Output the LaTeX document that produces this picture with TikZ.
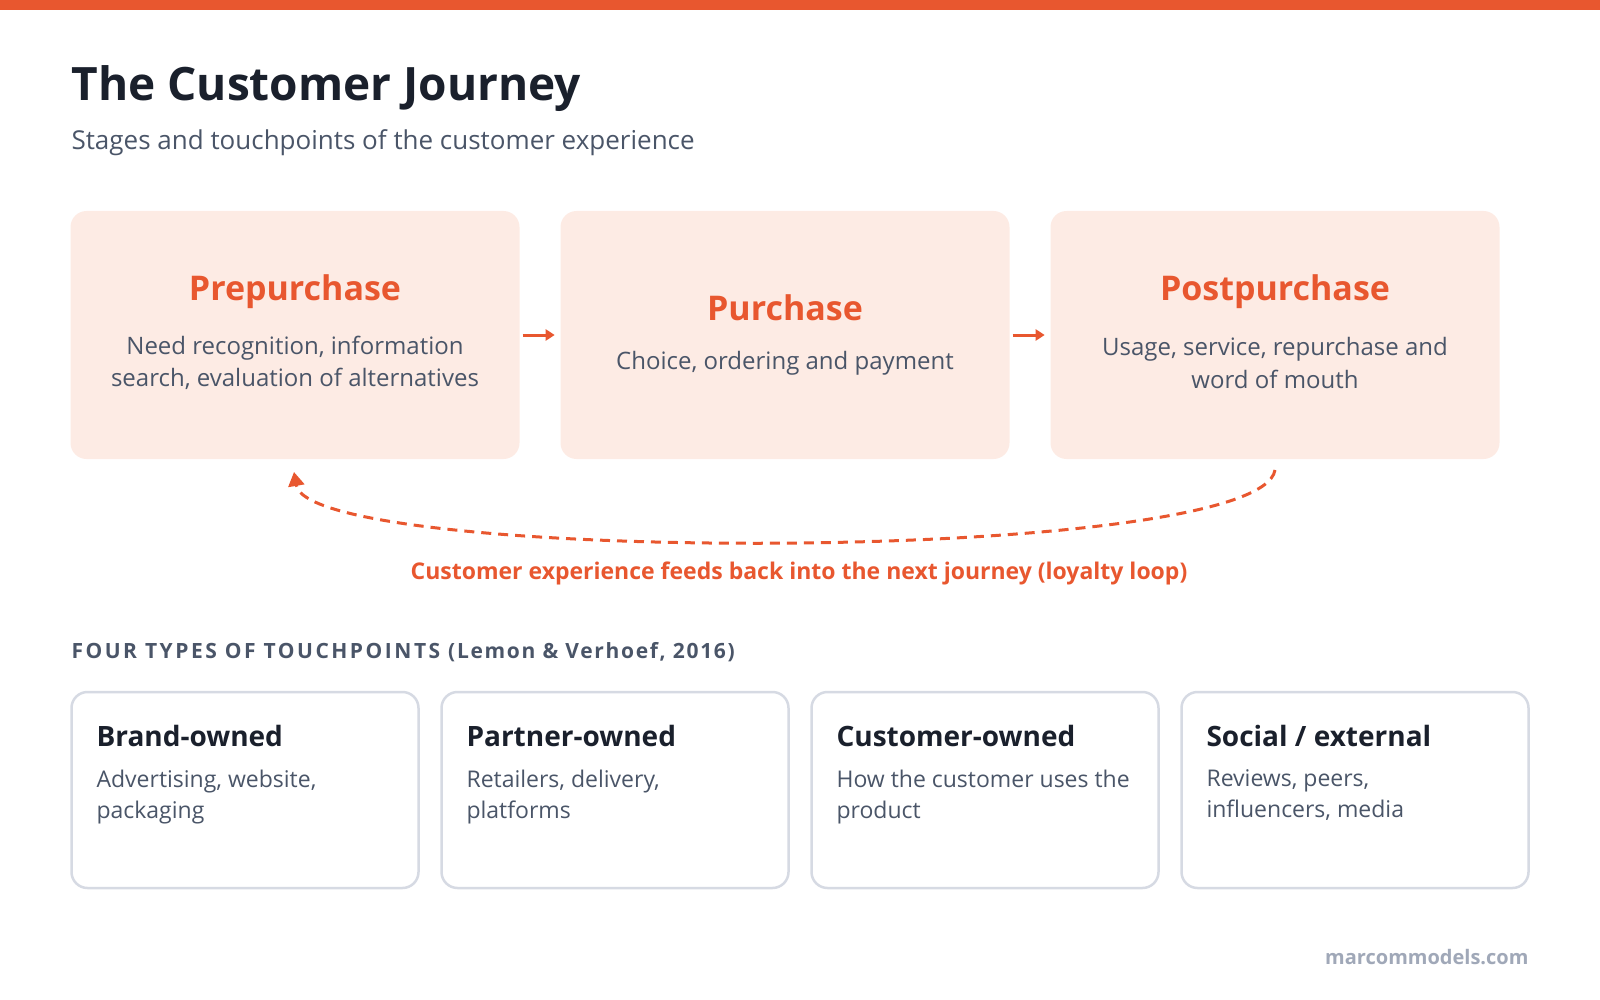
\documentclass[tikz,border=0pt]{standalone}
\usepackage{fontspec}
\setmainfont{Open Sans}
\usetikzlibrary{arrows.meta}
\definecolor{accent}{HTML}{E8572F}
\definecolor{stagefill}{HTML}{FDEBE4}
\definecolor{ink}{HTML}{1A202C}
\definecolor{muted}{HTML}{4A5568}
\definecolor{cardline}{HTML}{D6DAE3}
\definecolor{foot}{HTML}{A0A8B8}
\newcommand{\fs}[1]{\fontsize{#1}{1.35\dimexpr#1pt\relax}\selectfont}
\tikzset{
  stage/.style={fill=stagefill,rounded corners=16pt,minimum width=449pt,minimum height=248pt},
  stagetitle/.style={text=accent,font=\fs{34}\bfseries},
  stagetext/.style={text=muted,font=\fs{24},align=center},
  card/.style={draw=cardline,line width=2.5pt,fill=white,rounded corners=16pt,minimum width=347pt,minimum height=196pt},
  cardtitle/.style={text=ink,font=\fs{28}\bfseries,anchor=west},
  cardtext/.style={text=muted,font=\fs{23},anchor=north west,align=left},
  flow/.style={accent,line width=3pt,-{Triangle[length=9pt,width=11pt]}}
}
\begin{document}
\begin{tikzpicture}[x=1pt,y=-1pt]
  \useasboundingbox (0,0) rectangle (1600,1000);
  \fill[accent] (0,0) rectangle (1600,10);
  \node[anchor=west,text=ink,font=\fs{46}\bfseries] (title) at (68,89) {The Customer Journey};
  \node[anchor=west,text=muted,font=\fs{26}] (subtitle) at (68,143) {Stages and touchpoints of the customer experience};
  % stages
  \node[stage] (pre) at (295,335) {};
  \node[stage] (pur) at (785,335) {};
  \node[stage] (post) at (1275,335) {};
  \node[stagetitle] (pret) at (295,292) {Prepurchase};
  \node[stagetext] (prex) at (295,363) {Need recognition, information\\search, evaluation of alternatives};
  \node[stagetitle] (purt) at (785,308) {Purchase};
  \node[stagetext] (purx) at (785,363) {Choice, ordering and payment};
  \node[stagetitle] (postt) at (1275,292) {Postpurchase};
  \node[stagetext] (postx) at (1275,363) {Usage, service, repurchase and\\word of mouth};
  \draw[flow] (pre.east) ++(3,0) coordinate (a1) (a1) -- ++(32,0);
  \draw[flow] (pur.east) ++(3,0) coordinate (a2) (a2) -- ++(32,0);
  % loyalty loop
  \coordinate (loopa) at (1275,470);
  \coordinate (loopb) at (294,472);
  \draw[accent,line width=3pt,dash pattern=on 10pt off 7pt,-{Triangle[length=14pt,width=16pt]}]
    (loopa) .. controls (1260,565) and (310,565) .. (loopb);
  \node[text=accent,font=\fs{23}\bfseries] (loop) at (799,573) {Customer experience feeds back into the next journey (loyalty loop)};
  % touchpoints
  \node[anchor=west,text=muted,font=\fs{21}\bfseries\addfontfeature{LetterSpace=12}] (head) at (68,652) {FOUR TYPES OF TOUCHPOINTS \addfontfeature{LetterSpace=8}(Lemon \& Verhoef, 2016)};
  \foreach \x/\n/\t/\d in {245/c1/{Brand-owned}/{Advertising, website,\\packaging},
                           615/c2/{Partner-owned}/{Retailers, delivery,\\platforms},
                           985/c3/{Customer-owned}/{How the customer uses the\\product},
                           1355/c4/{Social / external}/{Reviews, peers,\\influencers, media}}{
    \node[card] (\n) at (\x,790) {};
    \node[cardtitle] (\n t) at (\x-152,736) {\t};
    \node[cardtext] (\n x) at (\x-152,766) {\d};
  }
  \node[anchor=east,text=foot,font=\fs{20}\bfseries] (footer) at (1532,957) {marcommodels.com};
\end{tikzpicture}
\end{document}
